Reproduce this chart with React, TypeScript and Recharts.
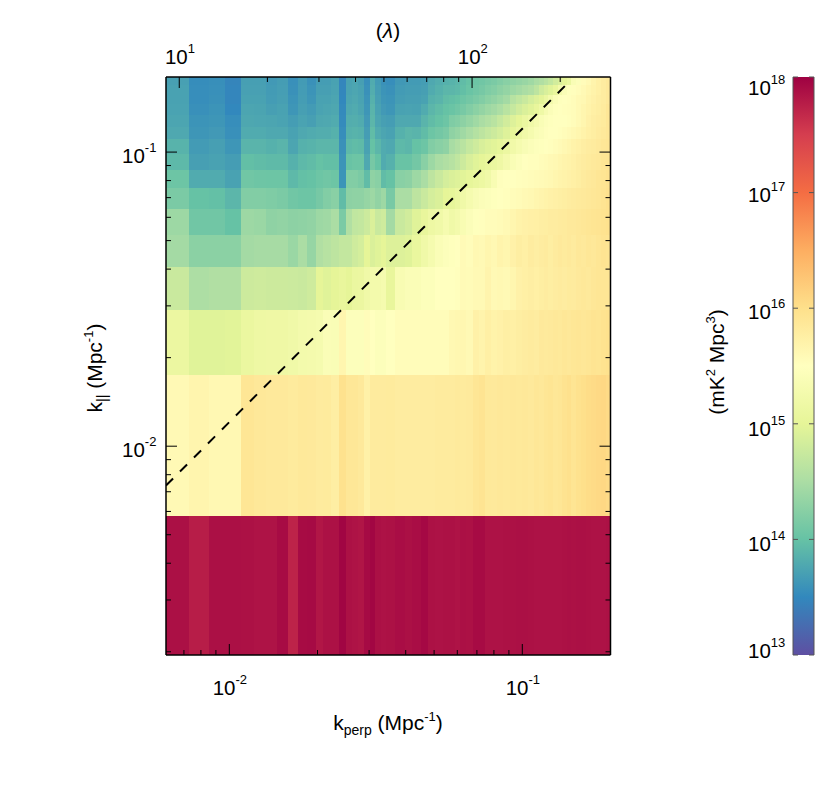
import { ComposedChart, Line, XAxis, YAxis, ReferenceArea } from 'recharts'

// Power spectrum in the (k_perp, k_par) plane, log10 of mK^2 Mpc^3 per cell.
// Column edges are uv bin numbers, rows are listed from the lowest k_par up.

const FONT = '"Liberation Sans", Arial, sans-serif'

const binWidth = 0.001216
const perpBins = [
  5, 6, 7, 7.96, 9, 10, 11, 12, 13, 14.1, 15.2, 16.2, 17.2, 18.3, 19.4, 20.5, 21.6, 22.6, 23.7, 24.9, 25.9, 27, 28.1,
  30.2, 32.6, 34.5, 37, 39.2, 41.5, 44, 46.2, 48.5, 50.4, 52.8, 55.8, 58.5, 61.3, 64.3, 67.4, 70.7, 74.7, 78.3, 82, 86,
  90.2, 93.8, 97.5, 100.7, 104.7, 108.8, 112.3, 116.8, 120.6, 125.4, 130.4, 135.6, 141.1, 146.7, 152.6, 158.7, 164.47,
]
const parEdges = [
  0.00195, 0.00581, 0.0175, 0.0291, 0.0407, 0.0523, 0.064, 0.0756, 0.0872, 0.0988, 0.1104, 0.122, 0.1337, 0.1453, 0.1569,
  0.1685, 0.18,
]

const row00 = [17.88, 17.77, 17.88, 17.88, 17.87, 17.85, 17.85, 17.92, 17.72, 17.92, 17.93, 17.83, 17.87, 17.87, 17.97, 17.87, 17.85, 17.84, 17.93, 17.96, 17.88, 17.86, 17.87, 17.9, 17.88, 17.9, 17.94, 17.87, 17.86, 17.87,
  17.87, 17.85, 17.88, 17.87, 17.92, 17.92, 17.86, 17.86, 17.86, 17.87, 17.87, 17.88, 17.88, 17.87, 17.86, 17.86, 17.86, 17.86, 17.86, 17.86, 17.87, 17.88, 17.87, 17.88, 17.88, 17.87, 17.86, 17.86, 17.86, 17.87]
const row01 = [15.6, 15.66, 15.62, 15.62, 15.9, 15.87, 15.85, 15.85, 15.83, 15.86, 15.85, 15.82, 15.83, 15.77, 15.97, 15.88, 15.88, 15.85, 15.72, 15.82, 15.82, 15.82, 15.83, 15.8, 15.8, 15.8, 15.8, 15.8, 15.82, 15.82,
  15.82, 15.84, 15.83, 15.84, 15.9, 15.93, 15.86, 15.85, 15.87, 15.86, 15.87, 15.86, 15.87, 15.85, 15.88, 15.87, 15.9, 15.92, 15.88, 15.9, 15.95, 15.98, 15.92, 15.97, 16.0, 16.03, 16.05, 16.07, 16.08, 16.05]
const row02 = [15.12, 14.95, 14.95, 14.97, 15.1, 15.15, 15.17, 15.17, 15.2, 15.25, 15.27, 15.3, 15.4, 15.38, 15.65, 15.45, 15.45, 15.45, 15.55, 15.5, 15.45, 15.45, 15.5, 15.55, 15.55, 15.55, 15.55, 15.55, 15.55, 15.55,
  15.62, 15.63, 15.63, 15.6, 15.72, 15.68, 15.75, 15.7, 15.72, 15.76, 15.75, 15.78, 15.8, 15.82, 15.8, 15.85, 15.84, 15.85, 15.87, 15.86, 15.88, 15.87, 15.89, 15.9, 15.88, 15.9, 15.93, 15.92, 15.95, 15.97]
const row03 = [14.75, 14.52, 14.55, 14.55, 14.78, 14.8, 14.78, 14.78, 14.77, 14.75, 14.8, 15.0, 14.95, 15.0, 15.05, 15.0, 15.1, 15.12, 15.2, 15.25, 15.25, 15.3, 15.05, 15.35, 15.4, 15.4, 15.45, 15.45, 15.5, 15.5,
  15.5, 15.52, 15.58, 15.57, 15.6, 15.6, 15.67, 15.6, 15.62, 15.6, 15.65, 15.72, 15.75, 15.77, 15.75, 15.78, 15.8, 15.78, 15.8, 15.82, 15.8, 15.83, 15.82, 15.85, 15.87, 15.85, 15.88, 15.9, 15.9, 15.9]
const row04 = [14.45, 14.27, 14.27, 14.27, 14.45, 14.47, 14.47, 14.47, 14.38, 14.5, 14.35, 14.55, 14.6, 14.65, 14.7, 14.7, 14.8, 14.85, 15.0, 14.9, 14.95, 15.0, 14.92, 14.92, 14.95, 15.08, 15.2, 15.3, 15.4, 15.45,
  15.48, 15.5, 15.58, 15.55, 15.62, 15.6, 15.65, 15.62, 15.68, 15.65, 15.72, 15.78, 15.75, 15.8, 15.77, 15.8, 15.82, 15.78, 15.82, 15.85, 15.83, 15.85, 15.82, 15.87, 15.85, 15.88, 15.87, 15.9, 15.93, 15.92]
const row05 = [14.4, 14.08, 14.08, 14.0, 14.4, 14.38, 14.3, 14.32, 14.28, 14.3, 14.32, 14.4, 14.42, 14.5, 14.15, 14.55, 14.68, 14.7, 14.78, 14.9, 14.75, 14.8, 14.45, 14.75, 14.82, 14.95, 15.05, 15.15, 15.2, 15.3,
  15.2, 15.25, 15.35, 15.42, 15.48, 15.52, 15.55, 15.55, 15.57, 15.6, 15.65, 15.7, 15.72, 15.74, 15.75, 15.77, 15.78, 15.8, 15.8, 15.82, 15.83, 15.85, 15.85, 15.87, 15.88, 15.9, 15.92, 15.93, 15.95, 15.97]
const row06 = [14.15, 14.0, 13.98, 13.9, 14.2, 14.2, 14.18, 14.15, 14.08, 14.05, 14.05, 14.12, 14.2, 14.25, 13.95, 14.28, 14.3, 14.3, 14.35, 14.4, 14.32, 14.4, 14.13, 14.5, 14.5, 14.65, 14.75, 14.85, 14.9, 15.0,
  15.03, 15.1, 15.2, 15.3, 15.37, 15.42, 15.45, 15.48, 15.5, 15.52, 15.55, 15.57, 15.6, 15.62, 15.65, 15.67, 15.7, 15.72, 15.74, 15.76, 15.78, 15.8, 15.82, 15.84, 15.85, 15.87, 15.88, 15.9, 15.93, 15.97]
const row07 = [14.05, 13.8, 13.8, 13.72, 14.08, 14.06, 14.05, 14.05, 13.92, 13.98, 14.0, 14.05, 14.08, 14.05, 13.6, 14.2, 14.2, 14.15, 13.95, 14.3, 14.25, 13.95, 14.0, 14.25, 14.28, 14.4, 14.5, 14.65, 14.75, 14.85,
  14.9, 14.93, 14.97, 15.03, 15.08, 15.13, 15.2, 15.35, 15.47, 15.5, 15.5, 15.52, 15.53, 15.55, 15.57, 15.58, 15.6, 15.62, 15.65, 15.68, 15.7, 15.72, 15.75, 15.78, 15.82, 15.85, 15.87, 15.9, 15.92, 15.95]
const row08 = [13.92, 13.7, 13.72, 13.68, 13.97, 13.95, 13.93, 13.93, 13.85, 13.92, 13.95, 14.0, 13.97, 13.97, 13.6, 14.02, 14.05, 14.05, 13.78, 14.12, 14.0, 13.8, 13.85, 14.02, 14.02, 14.1, 14.25, 14.4, 14.5, 14.55,
  14.6, 14.68, 14.78, 14.88, 14.95, 15.0, 15.05, 15.1, 15.17, 15.27, 15.38, 15.45, 15.5, 15.52, 15.52, 15.55, 15.57, 15.6, 15.62, 15.65, 15.68, 15.7, 15.73, 15.77, 15.8, 15.83, 15.85, 15.87, 15.9, 15.92]
const row09 = [13.87, 13.66, 13.7, 13.62, 13.88, 13.88, 13.85, 13.88, 13.75, 13.85, 13.87, 13.9, 13.9, 13.9, 13.58, 13.92, 13.95, 13.93, 13.72, 14.0, 13.9, 13.8, 13.78, 13.92, 13.9, 14.0, 14.05, 14.2, 14.25, 14.3,
  14.48, 14.55, 14.62, 14.72, 14.8, 14.88, 14.93, 14.97, 15.03, 15.12, 15.22, 15.3, 15.37, 15.42, 15.46, 15.48, 15.5, 15.52, 15.55, 15.58, 15.62, 15.65, 15.7, 15.73, 15.77, 15.8, 15.82, 15.85, 15.88, 15.9]
const row10 = [13.78, 13.62, 13.65, 13.57, 13.8, 13.8, 13.78, 13.78, 13.72, 13.78, 13.8, 13.82, 13.82, 13.85, 13.55, 13.85, 13.87, 13.85, 13.68, 13.95, 13.8, 13.75, 13.72, 13.85, 13.9, 13.88, 13.95, 14.05, 14.1, 14.15,
  14.3, 14.35, 14.42, 14.5, 14.58, 14.65, 14.72, 14.78, 14.85, 14.93, 15.02, 15.12, 15.22, 15.3, 15.38, 15.42, 15.47, 15.5, 15.5, 15.52, 15.55, 15.58, 15.62, 15.65, 15.7, 15.75, 15.78, 15.82, 15.85, 15.88]
const row11 = [13.75, 13.6, 13.62, 13.55, 13.77, 13.76, 13.75, 13.73, 13.68, 13.73, 13.7, 13.77, 13.78, 13.8, 13.53, 13.82, 13.83, 13.8, 13.65, 13.9, 13.75, 13.7, 13.68, 13.78, 13.78, 13.78, 13.88, 13.95, 14.0, 14.05,
  14.18, 14.22, 14.28, 14.35, 14.42, 14.5, 14.56, 14.62, 14.72, 14.82, 14.92, 15.0, 15.1, 15.2, 15.3, 15.38, 15.45, 15.48, 15.5, 15.5, 15.5, 15.52, 15.55, 15.6, 15.65, 15.72, 15.77, 15.8, 15.83, 15.88]
const row12 = [13.73, 13.57, 13.6, 13.5, 13.75, 13.74, 13.7, 13.72, 13.62, 13.7, 13.66, 13.73, 13.75, 13.77, 13.52, 13.78, 13.8, 13.75, 13.62, 13.88, 13.72, 13.65, 13.62, 13.72, 13.73, 13.72, 13.8, 13.9, 13.95, 14.0,
  14.03, 14.08, 14.13, 14.2, 14.27, 14.33, 14.4, 14.45, 14.52, 14.62, 14.72, 14.82, 14.9, 14.96, 15.05, 15.18, 15.32, 15.42, 15.48, 15.5, 15.52, 15.53, 15.55, 15.6, 15.65, 15.7, 15.75, 15.78, 15.82, 15.88]
const row13 = [13.72, 13.55, 13.58, 13.48, 13.72, 13.72, 13.67, 13.7, 13.6, 13.68, 13.62, 13.72, 13.72, 13.75, 13.5, 13.75, 13.78, 13.73, 13.6, 13.85, 13.7, 13.62, 13.6, 13.68, 13.7, 13.7, 13.72, 13.85, 13.88, 13.95,
  13.97, 14.0, 14.05, 14.1, 14.15, 14.2, 14.27, 14.32, 14.38, 14.45, 14.6, 14.68, 14.75, 14.85, 14.92, 14.98, 15.1, 15.25, 15.4, 15.48, 15.5, 15.52, 15.55, 15.6, 15.62, 15.68, 15.72, 15.77, 15.8, 15.85]
const row14 = [13.72, 13.55, 13.57, 13.48, 13.71, 13.71, 13.66, 13.69, 13.58, 13.67, 13.6, 13.7, 13.7, 13.73, 13.49, 13.73, 13.76, 13.72, 13.58, 13.82, 13.68, 13.6, 13.58, 13.66, 13.68, 13.68, 13.7, 13.8, 13.85, 13.9,
  13.9, 13.92, 13.97, 14.03, 14.08, 14.12, 14.18, 14.22, 14.28, 14.33, 14.4, 14.45, 14.5, 14.55, 14.65, 14.8, 14.88, 14.95, 15.05, 15.25, 15.4, 15.48, 15.52, 15.55, 15.6, 15.65, 15.7, 15.75, 15.8, 15.85]
const row15 = [13.71, 13.54, 13.56, 13.47, 13.7, 13.7, 13.65, 13.68, 13.57, 13.66, 13.58, 13.68, 13.68, 13.72, 13.48, 13.72, 13.75, 13.7, 13.56, 13.8, 13.66, 13.58, 13.55, 13.64, 13.66, 13.66, 13.68, 13.78, 13.82, 13.85,
  13.87, 13.9, 13.95, 14.0, 14.05, 14.08, 14.12, 14.15, 14.2, 14.25, 14.3, 14.33, 14.37, 14.42, 14.5, 14.55, 14.62, 14.7, 14.82, 14.9, 15.0, 15.1, 15.38, 15.45, 15.55, 15.6, 15.68, 15.75, 15.8, 15.85]

const rows = [row00, row01, row02, row03, row04, row05, row06, row07, row08, row09, row10, row11, row12, row13, row14, row15]

// dashed wedge line, with the same two points in wavelengths for the top axis
const wedgeK = [0.00608, 0.1442]
const wedgePar = [0.00735, 0.173]
const wedgeLambda = [9.01, 213.7]

const perpTicks = [0.007, 0.008, 0.009, 0.01, 0.02, 0.03, 0.04, 0.05, 0.06, 0.07, 0.08, 0.09, 0.1]
const lambdaTicks = [10, 20, 30, 40, 50, 60, 70, 80, 90, 100, 200]
const parTicks = [0.002, 0.003, 0.004, 0.005, 0.006, 0.007, 0.008, 0.009, 0.01, 0.02, 0.03, 0.04, 0.05, 0.06, 0.07, 0.08, 0.09, 0.1]
const barTicks = [1e13, 1e14, 1e15, 1e16, 1e17, 1e18]
const barBaselineShift = [3, 12, 12, 10.5, 9, 18]
const barSpan = [0, 1]

// Spectral, reversed, one stop per half decade from 13 to 18
const palette = ['#5e4fa2', '#3288bd', '#66c2a5', '#abdda4', '#e6f598', '#ffffbf', '#fee08b', '#fdae61', '#f46d43', '#d53e4f', '#9e0142']

function colorOf(v: number) {
  const t = Math.min(Math.max((v - 13) / 0.5, 0), 9.999)
  const i = Math.floor(t)
  const f = t - i
  const ch = (hex: string, p: number) => parseInt(hex.slice(p, p + 2), 16)
  const mix = (p: number) => Math.round(ch(palette[i], p) * (1 - f) + ch(palette[i + 1], p) * f)
  return `rgb(${mix(1)},${mix(3)},${mix(5)})`
}

const perpEdges = perpBins.map((n) => n * binWidth)
const wedgeData = wedgeK.map((k, i) => ({ k, par: wedgePar[i], lambda: wedgeLambda[i] }))
const barData = barSpan.map((s) => ({ s }))

const isMajor = (v: number) => Math.abs(Math.log10(v) - Math.round(Math.log10(v))) < 1e-6

function Power({ x, y, exp }: { x: number; y: number; exp: string }) {
  return (
    <text x={x} y={y} textAnchor="start" fontFamily={FONT} fill="#000">
      <tspan fontSize={20.5}>10</tspan>
      <tspan fontSize={13} dy={-11}>{exp}</tspan>
    </text>
  )
}

function BottomTick({ x, y, payload }: any) {
  const major = isMajor(payload.value)
  return (
    <g>
      <line x1={x} x2={x} y1={y} y2={y - (major ? 11 : 5)} stroke="#000" strokeWidth={1} />
      {major && <Power x={x - 16.6} y={y + 40} exp={String(Math.round(Math.log10(payload.value)))} />}
    </g>
  )
}

function TopTick({ x, y, payload }: any) {
  const major = isMajor(payload.value)
  return (
    <g>
      <line x1={x} x2={x} y1={y} y2={y + (major ? 11 : 5)} stroke="#000" strokeWidth={1} />
      {major && <Power x={x - 14.3} y={y - 13} exp={String(Math.round(Math.log10(payload.value)))} />}
    </g>
  )
}

function LeftTick({ x, y, payload }: any) {
  const major = isMajor(payload.value)
  return (
    <g>
      <line x1={x} x2={x + (major ? 11 : 5)} y1={y} y2={y} stroke="#000" strokeWidth={1} />
      {major && <Power x={x - 44} y={y + 11} exp={String(Math.round(Math.log10(payload.value)))} />}
    </g>
  )
}

function RightTick({ x, y, payload }: any) {
  const major = isMajor(payload.value)
  return <line x1={x} x2={x - (major ? 11 : 5)} y1={y} y2={y} stroke="#000" strokeWidth={1} />
}

function BarTick({ x, y, payload, index }: any) {
  return (
    <g>
      <line x1={x} x2={x + 5} y1={y} y2={y} stroke="#555" strokeWidth={1} />
      <Power x={x - 45} y={y + barBaselineShift[index]} exp={String(Math.round(Math.log10(payload.value)))} />
    </g>
  )
}

function BarTickRight({ x, y }: any) {
  return <line x1={x} x2={x - 5} y1={y} y2={y} stroke="#555" strokeWidth={1} />
}

const chartBox = { position: 'absolute', left: 0, top: 0 } as const

export default function App() {
  return (
    <div style={{ position: 'absolute', left: 0, top: 0, width: 830, height: 790, background: '#fff' }}>
      <div style={chartBox}>
        <ComposedChart
          width={830}
          height={790}
          data={wedgeData}
          margin={{ left: 106, right: 209.5, top: 37, bottom: 85 }}
        >
          <XAxis
            xAxisId="perp"
            dataKey="k"
            type="number"
            scale="log"
            domain={[0.00608, 0.2]}
            allowDataOverflow
            ticks={perpTicks}
            interval={0}
            height={50}
            tickSize={0}
            tickMargin={0}
            tickLine={false}
            tick={BottomTick}
            axisLine={{ stroke: '#000', strokeWidth: 1.5 }}
          />
          <XAxis
            xAxisId="lambda"
            dataKey="lambda"
            orientation="top"
            type="number"
            scale="log"
            domain={[9.01, 297]}
            allowDataOverflow
            ticks={lambdaTicks}
            interval={0}
            height={40}
            tickSize={0}
            tickMargin={0}
            tickLine={false}
            tick={TopTick}
            axisLine={{ stroke: '#000', strokeWidth: 1.5 }}
          />
          <YAxis
            yAxisId="par"
            type="number"
            scale="log"
            domain={[0.00195, 0.18]}
            allowDataOverflow
            ticks={parTicks}
            interval={0}
            width={60}
            tickSize={0}
            tickMargin={0}
            tickLine={false}
            tick={LeftTick}
            axisLine={{ stroke: '#000', strokeWidth: 1.5 }}
          />
          <YAxis
            yAxisId="parRight"
            orientation="right"
            type="number"
            scale="log"
            domain={[0.00195, 0.18]}
            allowDataOverflow
            ticks={parTicks}
            interval={0}
            width={10}
            tickSize={0}
            tickMargin={0}
            tickLine={false}
            tick={RightTick}
            axisLine={{ stroke: '#000', strokeWidth: 1.5 }}
          />
          {rows.map((row, r) =>
            row.map((v, c) => (
              <ReferenceArea
                key={`${r}-${c}`}
                xAxisId="perp"
                yAxisId="par"
                x1={perpEdges[c]}
                x2={perpEdges[c + 1]}
                y1={parEdges[r]}
                y2={parEdges[r + 1]}
                fill={colorOf(v)}
                fillOpacity={1}
                stroke="none"
                ifOverflow="visible"
                shapeRendering="crispEdges"
              />
            )),
          )}
          <Line
            xAxisId="perp"
            yAxisId="par"
            dataKey="par"
            stroke="#000"
            strokeWidth={2}
            strokeDasharray="10 9.8"
            dot={false}
            isAnimationActive={false}
          />
          <Line
            xAxisId="lambda"
            yAxisId="par"
            dataKey="par"
            stroke="none"
            dot={false}
            legendType="none"
            isAnimationActive={false}
          />
          <text x={388} y={38} textAnchor="middle" fontFamily={FONT} fontSize={21} fill="#000">
            (<tspan fontStyle="italic">λ</tspan>)
          </text>
          <text x={388} y={730} textAnchor="middle" fontFamily={FONT} fontSize={21} fill="#000">
            k<tspan fontSize={14} dy={5}>perp</tspan>
            <tspan dy={-5}> (Mpc</tspan>
            <tspan fontSize={13} dy={-9}>-1</tspan>
            <tspan dy={9}>)</tspan>
          </text>
          <text transform="translate(102,368) rotate(-90)" textAnchor="middle" fontFamily={FONT} fontSize={21} fill="#000">
            k<tspan fontSize={14} dy={5}>||</tspan>
            <tspan dy={-5}> (Mpc</tspan>
            <tspan fontSize={13} dy={-9}>-1</tspan>
            <tspan dy={9}>)</tspan>
          </text>
        </ComposedChart>
      </div>
      <div style={chartBox}>
        <ComposedChart width={830} height={790} data={barData} margin={{ left: 733, right: 6, top: 77, bottom: 135 }}>
          <defs>
            <linearGradient id="barFill" x1="0" x2="0" y1="1" y2="0">
              {palette.map((c, i) => (
                <stop key={c} offset={`${i * 10}%`} stopColor={c} />
              ))}
            </linearGradient>
          </defs>
          <XAxis xAxisId="bar" dataKey="s" type="number" domain={[0, 1]} hide height={0} />
          <YAxis
            yAxisId="bar"
            type="number"
            scale="log"
            domain={[1e13, 1e18]}
            allowDataOverflow
            ticks={barTicks}
            interval={0}
            width={60}
            tickSize={0}
            tickMargin={0}
            tickLine={false}
            tick={BarTick}
            axisLine={{ stroke: '#555', strokeWidth: 1 }}
          />
          <YAxis
            yAxisId="barRight"
            orientation="right"
            type="number"
            scale="log"
            domain={[1e13, 1e18]}
            allowDataOverflow
            ticks={barTicks}
            interval={0}
            width={10}
            tickSize={0}
            tickMargin={0}
            tickLine={false}
            tick={BarTickRight}
            axisLine={{ stroke: '#555', strokeWidth: 1 }}
          />
          <ReferenceArea
            xAxisId="bar"
            yAxisId="bar"
            x1={0}
            x2={1}
            y1={1e13}
            y2={1e18}
            fill="url(#barFill)"
            fillOpacity={1}
            stroke="none"
            ifOverflow="visible"
          />
          <Line
            xAxisId="bar"
            yAxisId="bar"
            dataKey="none"
            stroke="none"
            dot={false}
            legendType="none"
            isAnimationActive={false}
          />
          <text transform="translate(724,362) rotate(-90)" textAnchor="middle" fontFamily={FONT} fontSize={21} fill="#000">
            (mK<tspan fontSize={13} dy={-9}>2</tspan>
            <tspan dy={9}> Mpc</tspan>
            <tspan fontSize={13} dy={-9}>3</tspan>
            <tspan dy={9}>)</tspan>
          </text>
        </ComposedChart>
      </div>
    </div>
  )
}
